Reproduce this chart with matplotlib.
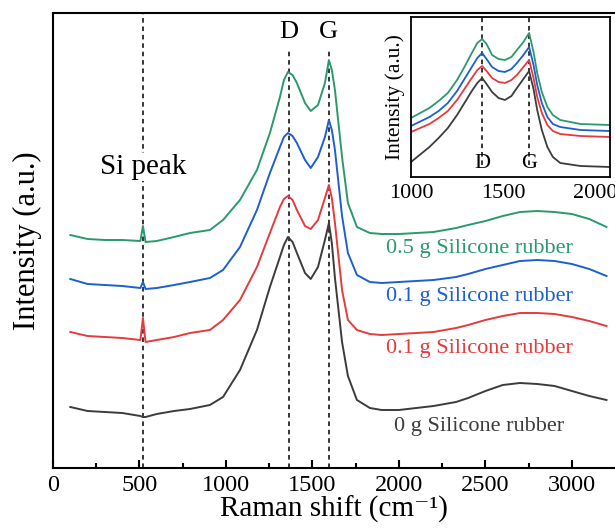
import matplotlib
matplotlib.use('Agg')
import matplotlib.pyplot as plt

plt.rcParams['font.family'] = ['Liberation Serif', 'DejaVu Serif']

# Raman shift points (cm-1)
shift = [100, 200, 300, 400, 505, 520, 535, 600, 700, 792, 907, 983, 1081, 1179, 1254,
         1312, 1335, 1358, 1385, 1410, 1457, 1490, 1532, 1572, 1595, 1612, 1630, 1671,
         1705, 1757, 1832, 1900, 2000, 2100, 2200, 2330, 2400, 2500, 2600, 2700, 2800,
         2900, 3000, 3100, 3200]

# stacked spectra (offset included, a.u.)
green = [233, 229, 228, 228, 227, 242, 226, 227, 231, 235, 238, 248, 268, 298, 335,
         371, 388, 396, 393, 385, 365, 357, 363, 385, 408, 398, 378, 311,
         265, 241, 235, 234, 234, 235, 236, 240, 243, 247, 252, 256, 257,
         256, 254, 249, 241]
blue = [189, 184, 183, 182, 180, 186, 179, 180, 183, 186, 190, 198, 221, 258, 295,
        321, 331, 335, 332, 325, 308, 300, 311, 331, 348, 338, 318, 252,
        215, 193, 186, 185, 186, 187, 188, 191, 194, 199, 203, 207, 208,
        207, 204, 199, 192]
red = [136, 132, 131, 130, 128, 150, 126, 128, 131, 135, 138, 148, 168, 201, 235,
       261, 269, 272, 268, 258, 242, 239, 248, 270, 283, 270, 245, 178,
       148, 138, 134, 133, 134, 135, 136, 140, 143, 148, 152, 155, 155,
       154, 151, 147, 142]
black = [61, 57, 56, 55, 52, 51, 51, 54, 57, 59, 63, 71, 98, 138, 181,
         211, 223, 231, 226, 215, 195, 189, 201, 228, 245, 225, 190, 126,
         92, 68, 60, 58, 58, 60, 62, 66, 70, 77, 83, 85, 84,
         82, 77, 72, 68]

# inset (zoom on D and G bands)
shift_in = [1000, 1100, 1150, 1200, 1250, 1290, 1330, 1360, 1386, 1410, 1440, 1475, 1510,
            1545, 1575, 1610, 1641, 1665, 1685, 1710, 1740, 1770, 1810, 1920, 2080]
green_in = [59, 69, 76, 84, 97, 110, 124, 134, 138, 133, 122, 118, 117,
            120, 127, 135, 144, 125, 104, 85, 70, 62, 57, 53, 52]
blue_in = [51, 60, 66, 74, 86, 98, 110, 119, 124, 118, 110, 106, 105,
           108, 114, 122, 130, 112, 92, 74, 60, 53, 50, 47, 46]
red_in = [45, 53, 59, 66, 77, 88, 99, 107, 111, 106, 99, 95, 94,
          97, 102, 110, 117, 99, 80, 64, 52, 46, 43, 41, 40]
black_in = [15, 30, 39, 49, 62, 74, 86, 94, 99, 93, 85, 79, 77,
            81, 89, 98, 106, 88, 67, 47, 30, 20, 14, 11, 10]

labels = ['0.5 g Silicone rubber', '0.1 g Silicone rubber', '0.1 g Silicone rubber', '0 g Silicone rubber']
colors = ['#2a9a6c', '#1c5fd2', '#e63a3c', '#3c3c3c']
label_y = [219, 171, 120, 42]

si_pos = 520
d_pos, g_pos = 1364, 1595
d_in, g_in = 1386, 1641

fig = plt.figure(figsize=(6.15, 5.3), dpi=100)
ax = fig.add_axes([53 / 615, 62 / 530, 1 - 53 / 615, 455 / 530])

for ys, c in zip([green, blue, red, black], colors):
    ax.plot(shift, ys, color=c, lw=1.4)

for lab, c, ly in zip(labels, colors, label_y):
    ax.text(2465, ly, lab, color=c, fontsize=16, ha='center', va='center')

ax.axvline(si_pos, color='black', ls=(0, (3, 2.5)), lw=1.1, zorder=1)
ax.vlines([d_pos, g_pos], 0, 420, color='black', linestyles=[(0, (3, 2.5))], lw=1.1, zorder=1)
ax.text(si_pos, 301, 'Si peak', fontsize=21, ha='center', va='center',
        bbox=dict(facecolor='white', edgecolor='none', pad=1))
ax.text(d_pos, 436, 'D', fontsize=19, ha='center', va='center')
ax.text(g_pos, 436, 'G', fontsize=19, ha='center', va='center')

ax.set_xlim(0, 3249)
ax.set_ylim(0, 455)
ax.set_xticks([0, 500, 1000, 1500, 2000, 2500, 3000])
ax.set_xticks([250, 750, 1250, 1750, 2250, 2750], minor=True)
ax.set_yticks([])
ax.tick_params(axis='x', which='major', direction='in', length=6, width=1.5, labelsize=17.5, pad=5)
ax.tick_params(axis='x', which='minor', direction='in', length=3.5, width=1.5)
ax.spines['right'].set_visible(False)
for s in ['left', 'top', 'bottom']:
    ax.spines[s].set_linewidth(1.5)
ax.set_xlabel('Raman shift (cm\u207b\u00b9)', fontsize=21, labelpad=0)
ax.set_ylabel('Intensity (a.u.)', fontsize=22, labelpad=8)

# inset
axin = fig.add_axes([411 / 615, 353 / 530, 199 / 615, 160 / 530])
for ys, c in zip([green_in, blue_in, red_in, black_in], colors):
    axin.plot(shift_in, ys, color=c, lw=1.3)
axin.vlines([d_in, g_in], 12, 160, color='black', linestyles=[(0, (3, 2.5))], lw=1.1, zorder=1)
axin.text(d_in, 14, 'D', fontsize=16, ha='center', va='center')
axin.text(g_in, 14, 'G', fontsize=16, ha='center', va='center')
axin.set_xlim(1000, 2080)
axin.set_ylim(0, 160)
axin.set_xticks([1000, 1500, 2000])
axin.set_yticks([])
axin.tick_params(axis='x', length=0, labelsize=16, pad=5)
for s in axin.spines.values():
    s.set_linewidth(1.3)
axin.set_ylabel('Intensity (a.u.)', fontsize=15.5, labelpad=4)

fig.savefig('out.png', dpi=100)
